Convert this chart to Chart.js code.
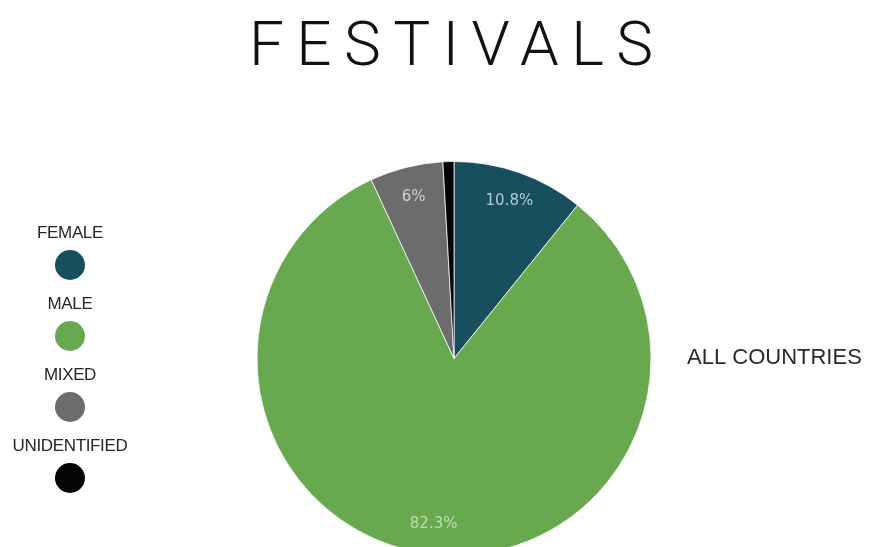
<!DOCTYPE html>
<html>
<head>
<meta charset="utf-8">
<script src="https://cdn.jsdelivr.net/npm/chart.js@4"></script>
<style>
  html, body { margin: 0; padding: 0; background: #fff; }
  #wrap { width: 886px; height: 547px; overflow: hidden; position: relative; }
</style>
</head>
<body>
<div id="wrap"><canvas id="festChart" width="886" height="570"></canvas></div>
<script>
const categories = ["FEMALE", "MALE", "MIXED", "UNIDENTIFIED"];
const shares = [10.8, 82.3, 6, 0.9];
const labelledSlices = [true, true, true, false];
const sliceColors = ["#174f5e", "#68a84f", "#6c6c6c", "#050505"];
const labelColors = ["#b3cbd1", "#c2dbb4", "#d2d2d2", "#ffffff"];

// title, side caption and the stacked legend on the left
const decorations = {
  id: "decorations",
  afterDraw(chart) {
    const ctx = chart.ctx;
    ctx.save();

    // title with wide tracking
    ctx.fillStyle = "#111";
    ctx.font = "300 62px Roboto, Lato, sans-serif";
    ctx.textBaseline = "alphabetic";
    ctx.textAlign = "left";
    ctx.letterSpacing = "0px";
    const title = "FESTIVALS";
    const plain = ctx.measureText(title).width;
    const track = (404 - plain) / (title.length - 1);
    ctx.letterSpacing = track + "px";
    ctx.fillText(title, 249, 65);

    ctx.letterSpacing = "0px";
    ctx.fillStyle = "#2a2a2a";
    ctx.font = "22px 'Liberation Sans', Arial, sans-serif";
    ctx.textBaseline = "middle";
    ctx.fillText("ALL COUNTRIES", 687, 358);

    // legend: name above a round swatch
    ctx.textAlign = "center";
    ctx.font = "17px 'Liberation Sans', Arial, sans-serif";
    ctx.letterSpacing = "-0.35px";
    categories.forEach((name, i) => {
      const top = 233 + i * 71;
      ctx.fillStyle = "#262626";
      ctx.fillText(name, 70, top);
      ctx.beginPath();
      ctx.arc(70, top + 32, 15, 0, Math.PI * 2);
      ctx.fillStyle = sliceColors[i];
      ctx.fill();
    });
    ctx.restore();
  }
};

// percentage text inside the slices
const sliceLabels = {
  id: "sliceLabels",
  afterDatasetsDraw(chart) {
    const ctx = chart.ctx;
    const meta = chart.getDatasetMeta(0);
    ctx.save();
    ctx.font = "15px 'DejaVu Sans', Verdana, sans-serif";
    ctx.textAlign = "center";
    ctx.textBaseline = "middle";
    meta.data.forEach((arc, i) => {
      if (!labelledSlices[i]) return;
      const p = arc.getProps(["x", "y", "startAngle", "endAngle", "outerRadius"], true);
      const mid = (p.startAngle + p.endAngle) / 2;
      const r = p.outerRadius * 0.845;
      ctx.fillStyle = labelColors[i];
      ctx.fillText(shares[i] + "%", p.x + Math.cos(mid) * r, p.y + Math.sin(mid) * r);
    });
    ctx.restore();
  }
};

new Chart(document.getElementById("festChart"), {
  type: "pie",
  data: {
    labels: categories,
    datasets: [{
      data: shares,
      backgroundColor: sliceColors,
      borderColor: "rgba(255,255,255,0.75)",
      borderWidth: 1
    }]
  },
  options: {
    responsive: false,
    animation: false,
    layout: { padding: { top: 161, bottom: 14, left: 256, right: 234 } },
    plugins: {
      legend: { display: false },
      title: { display: false },
      tooltip: { enabled: false }
    }
  },
  plugins: [sliceLabels, decorations]
});
</script>
</body>
</html>
